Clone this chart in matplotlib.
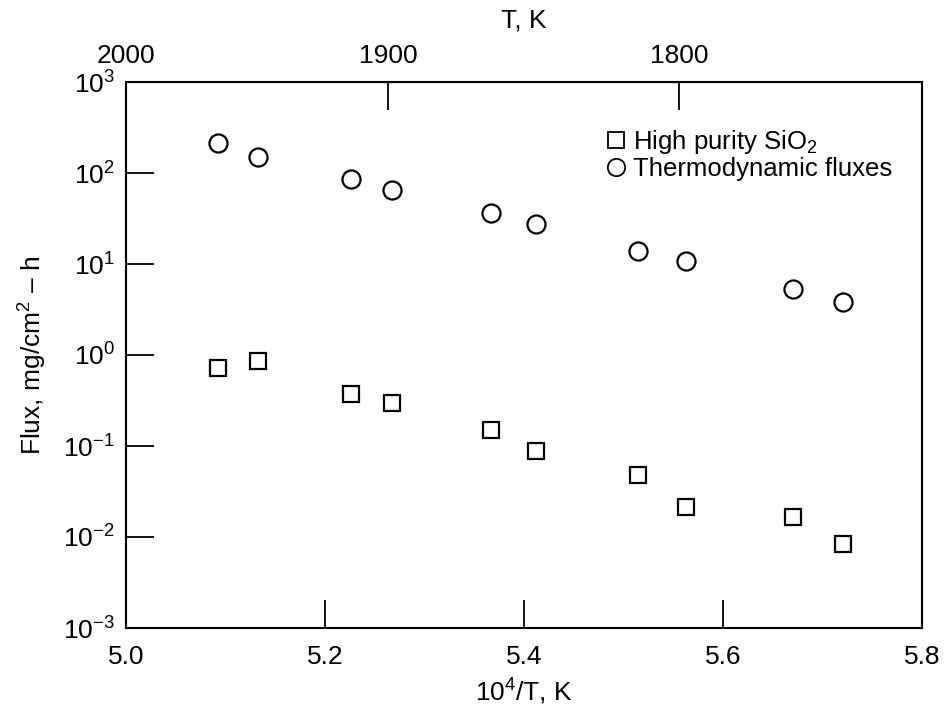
import matplotlib
matplotlib.use("Agg")
import matplotlib.pyplot as plt
from matplotlib.lines import Line2D

plt.rcParams['font.family'] = ['Liberation Sans', 'DejaVu Sans']
plt.rcParams['mathtext.fontset'] = 'custom'
plt.rcParams['mathtext.rm'] = 'Liberation Sans'
plt.rcParams['mathtext.it'] = 'Liberation Sans'
plt.rcParams['mathtext.default'] = 'regular'

# Data
inv_T = [5.092, 5.133, 5.226, 5.267, 5.367, 5.412, 5.515, 5.563, 5.670, 5.721]
thermo_flux = [214, 150, 86, 65, 36, 27.5, 13.9, 10.8, 5.3, 3.8]
sio2_flux = [0.72, 0.86, 0.37, 0.30, 0.15, 0.088, 0.048, 0.0214, 0.0166, 0.0084]

x_ticks = [5.0, 5.2, 5.4, 5.6, 5.8]
x_ticklabels = ['5.0', '5.2', '5.4', '5.6', '5.8']
y_ticks = [1e-3, 1e-2, 1e-1, 1e0, 1e1, 1e2, 1e3]
y_ticklabels = ['10$^{-3}$', '10$^{-2}$', '10$^{-1}$', '10$^{0}$', '10$^{1}$', '10$^{2}$', '10$^{3}$']
top_ticks = [2000, 1900, 1800]
top_ticklabels = ['2000', '1900', '1800']

FS = 19

fig = plt.figure(figsize=(9.51, 7.10), dpi=100)
ax = fig.add_axes([126/951, (710-628)/710, (922-126)/951, (628-82)/710])

ax.plot(inv_T, thermo_flux, linestyle='none', marker='o', markersize=13,
        markerfacecolor='white', markeredgecolor='black', markeredgewidth=1.6)
ax.plot(inv_T, sio2_flux, linestyle='none', marker='s', markersize=12,
        markerfacecolor='white', markeredgecolor='black', markeredgewidth=1.6)

ax.set_yscale('log')
ax.set_xlim(5.0, 5.8)
ax.set_ylim(1e-3, 1e3)
ax.set_xticks(x_ticks)
ax.set_xticklabels(x_ticklabels)
ax.set_yticks(y_ticks)
ax.set_yticklabels(y_ticklabels)
ax.yaxis.set_minor_locator(matplotlib.ticker.NullLocator())

ax.tick_params(axis='both', direction='in', length=20, width=1.3, labelsize=FS,
               colors='black', pad=8)
ax.tick_params(axis='x', pad=12)
for s in ax.spines.values():
    s.set_linewidth(1.5)

ax.set_xlabel('10$^{4}$/T, K', fontsize=FS, labelpad=6)
ax.set_ylabel('Flux, mg/cm$^{2}$ – h', fontsize=FS, labelpad=10)

sec = ax.secondary_xaxis('top', functions=(lambda x: 1e4 / x, lambda x: 1e4 / x))
sec.set_xticks(top_ticks)
sec.set_xticklabels(top_ticklabels)
sec.tick_params(axis='x', direction='in', length=20, width=1.3, labelsize=FS, pad=10)
sec.xaxis.set_minor_locator(matplotlib.ticker.NullLocator())
sec.set_xlabel('T, K', fontsize=FS, labelpad=12)

handles = [
    Line2D([], [], linestyle='none', marker='s', markersize=12,
           markerfacecolor='white', markeredgecolor='black', markeredgewidth=1.3),
    Line2D([], [], linestyle='none', marker='o', markersize=12.5,
           markerfacecolor='white', markeredgecolor='black', markeredgewidth=1.3),
]
ax.legend(handles, ['High purity SiO$_{2}$', 'Thermodynamic fluxes'],
          loc='upper right', bbox_to_anchor=(0.975, 0.935), frameon=False,
          fontsize=FS - 0.5, handletextpad=0.25, handlelength=0.8, labelspacing=0.05,
          borderaxespad=0)

fig.savefig('out.png', dpi=100)
